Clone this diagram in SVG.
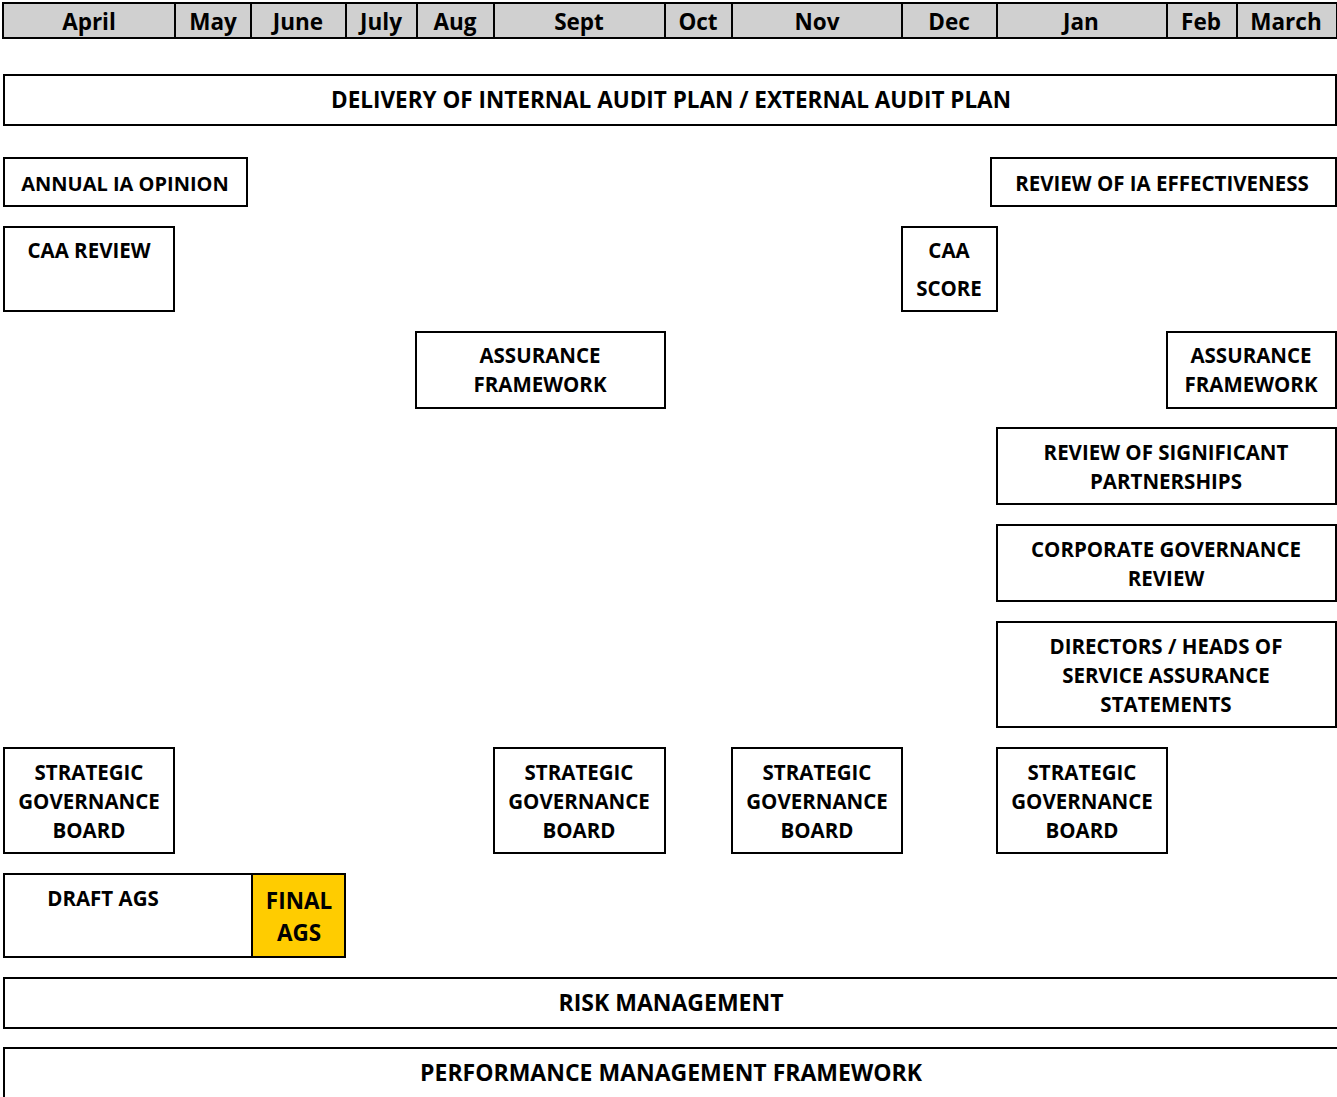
<svg xmlns="http://www.w3.org/2000/svg" width="1337" height="1097" viewBox="0 0 1337 1097">
<style>
.box{fill:#fff;stroke:#000;stroke-width:2}
.hdr{fill:#d0d0d0;stroke:#000;stroke-width:2}
.t{font-family:"Open Sans",Lato,sans-serif;font-weight:700;font-size:20.5px;fill:#000;text-anchor:middle}
.h{font-family:"Open Sans",Lato,sans-serif;font-weight:700;font-size:22.5px;fill:#000;text-anchor:middle}
.big{font-size:22.5px}
.band{font-size:23px}
.del{font-size:22.5px}
</style>
<rect width="1337" height="1097" fill="#fff"/>
<g id="header">
<rect class="hdr" x="3" y="3" width="1334" height="35"/>
<g stroke="#000" stroke-width="2">
<line x1="175" y1="3" x2="175" y2="38"/>
<line x1="251" y1="3" x2="251" y2="38"/>
<line x1="346" y1="3" x2="346" y2="38"/>
<line x1="417" y1="3" x2="417" y2="38"/>
<line x1="494" y1="3" x2="494" y2="38"/>
<line x1="665" y1="3" x2="665" y2="38"/>
<line x1="732" y1="3" x2="732" y2="38"/>
<line x1="902" y1="3" x2="902" y2="38"/>
<line x1="997" y1="3" x2="997" y2="38"/>
<line x1="1167" y1="3" x2="1167" y2="38"/>
<line x1="1237" y1="3" x2="1237" y2="38"/>
</g>
<text class="h" x="89" y="30">April</text>
<text class="h" x="213" y="30">May</text>
<text class="h" x="298" y="30">June</text>
<text class="h" x="381" y="30">July</text>
<text class="h" x="455" y="30">Aug</text>
<text class="h" x="579" y="30">Sept</text>
<text class="h" x="698" y="30">Oct</text>
<text class="h" x="817" y="30">Nov</text>
<text class="h" x="949" y="30">Dec</text>
<text class="h" x="1081" y="30">Jan</text>
<text class="h" x="1201" y="30">Feb</text>
<text class="h" x="1286" y="30">March</text>
</g>
<g id="delivery"><rect class="box" x="4" y="75" width="1332" height="50"/><text class="t del" x="671" y="108">DELIVERY OF INTERNAL AUDIT PLAN / EXTERNAL AUDIT PLAN</text></g>
<g id="annual-ia"><rect class="box" x="4" y="158" width="243" height="48"/><text class="t" x="125" y="191" style="font-size:20px">ANNUAL IA OPINION</text></g>
<g id="review-ia"><rect class="box" x="991" y="158" width="345" height="48"/><text class="t" x="1162" y="191">REVIEW OF IA EFFECTIVENESS</text></g>
<g id="caa-review"><rect class="box" x="4" y="227" width="170" height="84"/><text class="t" x="89" y="258">CAA REVIEW</text></g>
<g id="caa-score"><rect class="box" x="902" y="227" width="95" height="84"/><text class="t" x="949" y="258">CAA</text><text class="t" x="949" y="296">SCORE</text></g>
<g id="assurance-1"><rect class="box" x="416" y="332" width="249" height="76"/><text class="t" x="540" y="363">ASSURANCE</text><text class="t" x="540" y="392">FRAMEWORK</text></g>
<g id="assurance-2"><rect class="box" x="1167" y="332" width="169" height="76"/><text class="t" x="1251" y="363">ASSURANCE</text><text class="t" x="1251" y="392">FRAMEWORK</text></g>
<g id="partnerships"><rect class="box" x="997" y="428" width="339" height="76"/><text class="t" x="1166" y="460">REVIEW OF SIGNIFICANT</text><text class="t" x="1166" y="489">PARTNERSHIPS</text></g>
<g id="corp-gov"><rect class="box" x="997" y="525" width="339" height="76"/><text class="t" x="1166" y="557">CORPORATE GOVERNANCE</text><text class="t" x="1166" y="586">REVIEW</text></g>
<g id="directors"><rect class="box" x="997" y="622" width="339" height="105"/><text class="t" x="1166" y="654">DIRECTORS / HEADS OF</text><text class="t" x="1166" y="683">SERVICE ASSURANCE</text><text class="t" x="1166" y="712">STATEMENTS</text></g>
<g id="sgb-1"><rect class="box" x="4" y="748" width="170" height="105"/><text class="t" x="89" y="780">STRATEGIC</text><text class="t" x="89" y="809">GOVERNANCE</text><text class="t" x="89" y="838">BOARD</text></g>
<g id="sgb-2"><rect class="box" x="494" y="748" width="171" height="105"/><text class="t" x="579" y="780">STRATEGIC</text><text class="t" x="579" y="809">GOVERNANCE</text><text class="t" x="579" y="838">BOARD</text></g>
<g id="sgb-3"><rect class="box" x="732" y="748" width="170" height="105"/><text class="t" x="817" y="780">STRATEGIC</text><text class="t" x="817" y="809">GOVERNANCE</text><text class="t" x="817" y="838">BOARD</text></g>
<g id="sgb-4"><rect class="box" x="997" y="748" width="170" height="105"/><text class="t" x="1082" y="780">STRATEGIC</text><text class="t" x="1082" y="809">GOVERNANCE</text><text class="t" x="1082" y="838">BOARD</text></g>
<g id="draft-ags"><rect class="box" x="4" y="874" width="248" height="83"/><text class="t" x="103" y="906">DRAFT AGS</text></g>
<g id="final-ags"><rect x="252" y="874" width="93" height="83" fill="#ffcc00" stroke="#000" stroke-width="2"/><text class="t big" x="299" y="909">FINAL</text><text class="t big" x="299" y="941">AGS</text></g>
<g id="risk"><rect class="box" x="4" y="978" width="1340" height="50"/><text class="t band" x="671" y="1011">RISK MANAGEMENT</text></g>
<g id="performance"><rect class="box" x="4" y="1048" width="1340" height="60"/><text class="t band" x="671" y="1081">PERFORMANCE MANAGEMENT FRAMEWORK</text></g>
<g id="connectors"/>
</svg>
